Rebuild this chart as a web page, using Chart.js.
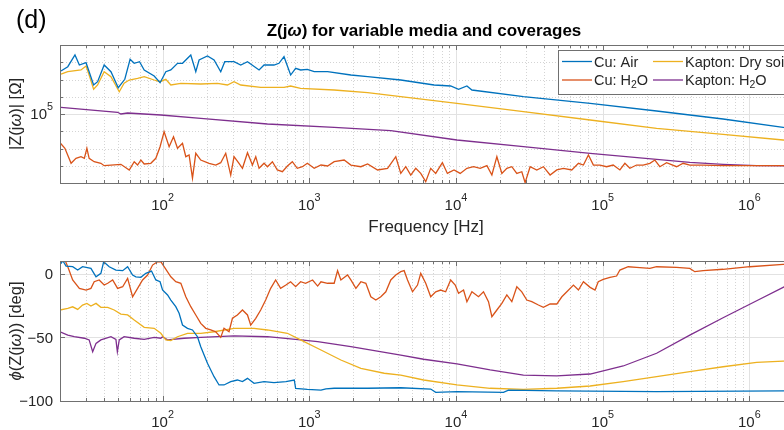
<!DOCTYPE html>
<html>
<head>
<meta charset="utf-8">
<script src="https://cdn.jsdelivr.net/npm/chart.js@4.4.1/dist/chart.umd.min.js"></script>
<style>
  html, body { margin: 0; padding: 0; background: #fff; overflow: hidden; }
  #wrap { position: relative; width: 784px; height: 430px; overflow: hidden; }
  canvas { position: absolute; left: 0; }
  #magCanvas { top: 0; }
  #phaseCanvas { top: 240px; }
</style>
</head>
<body>
<div id="wrap">
  <canvas id="magCanvas" width="800" height="240"></canvas>
  <canvas id="phaseCanvas" width="800" height="190"></canvas>
</div>
<script>
// ---- data: [frequency Hz, value] ----
const seriesLabels = ['Cu: Air', 'Cu: H_2O', 'Kapton: Dry soil', 'Kapton: H_2O'];

// |Z| in ohm
const magCuAir = [[20.3,3.11e7],[22.6,5.52e7],[25.3,2.63e8],[27.1,6.93e7],[30.1,9.42e7],[33.9,4.8e6],[36.1,7.45e6],[40,6.93e7],[44.5,2.83e7],[49.9,3.35e6],[55.3,1.03e7],[60.1,1.48e8],[64.1,8.69e7],[69.7,1.08e8],[75,3.56e7],[87.7,1.6e7],[96.2,6.52e6],[105.3,2.83e7],[113.9,3.56e7],[126.5,8.69e7],[136.8,8.69e7],[155.8,2.63e8],[168.5,2.83e7],[177.5,1.35e8],[202.4,2.3e8],[224.5,1.35e8],[249.3,2.83e7],[265.5,1.08e8],[307.1,1.08e8],[341.2,6.93e7],[379.3,1.08e8],[455,3.56e7],[492,6.93e7],[575,6.93e7],[622,8.69e7],[673,2.1e8],[747,1.82e7],[808,4.46e7],[873,3.56e7],[971,3.9e7],[1081,2.83e7],[1334,2.83e7],[1922,1.82e7],[2500,1.45e7],[4207,9.35e6],[7096,4.8e6],[9205,4.2e6],[10420,2.7e6],[11880,4.2e6],[12850,2.46e6],[28840,1.01e6],[82200,4.17e5],[233300,1.49e5],[662200,5.13e4],[1.7e6,1.69e4],[2e6,1.4e4]];
const magCuWater = [[20,2170],[21.6,1030],[23.8,139],[25.7,270],[27.8,335],[29.3,270],[30.5,1030],[31.6,270],[34.2,172],[38,139],[40,101],[44.5,110],[52,121],[59.3,57],[64.1,172],[67.6,110],[71.2,215],[75,126],[83.2,139],[90,270],[96.2,1270],[102.5,9420],[110.9,1270],[118.8,4830],[126.5,1030],[136.8,2000],[144.1,335],[151.7,420],[160,19],[168.5,527],[182.2,215],[207.6,139],[230.5,110],[249.3,150],[269.6,527],[291.6,29],[307.1,335],[332.1,139],[350.6,71],[379.3,571],[410,110],[432,335],[455,71],[492,139],[519,88],[561,172],[606,57],[656,45],[710,97],[767,172],[829,71],[898,88],[971,139],[1081,71],[1202,110],[1334,97],[1479,172],[1730,215],[1922,110],[2249,88],[2500,126],[2923,57],[3418,71],[3890,335],[4207,36],[4550,88],[4921,29],[5321,71],[5755,36],[6224,12],[6731,71],[7279,36],[8084,150],[8743,36],[9704,57],[10690,36],[11880,71],[13180,88],[14630,71],[16260,101],[17580,29],[19010,335],[20560,36],[22230,71],[24040,88],[26000,36],[28120,45],[29620,10.4],[32040,88],[35570,57],[39460,88],[43840,29],[48700,57],[53980,71],[61600,57],[68390,139],[73960,110],[80000,420],[86500,110],[95900,110],[106400,88],[118000,110],[131100,57],[141800,139],[153400,71],[170300,110],[188900,110],[209900,139],[227000,215],[245500,88],[272900,150],[319200,88],[354000,139],[392800,110],[484200,110],[662200,101],[1.7e6,101],[2e6,100]];
const magKaptonSoil = [[20.3,2.08e7],[22.6,2.83e7],[27.8,3.56e7],[30.1,6.07e7],[31.6,1.82e7],[33.9,2.7e6],[36.1,4.8e6],[40,2.83e7],[44.5,1.45e7],[50.7,1.96e6],[54.7,6.03e6],[59.3,9.35e6],[67.6,1.17e7],[75,1.45e7],[87.7,9.35e6],[96.2,7.45e6],[105.3,1.03e7],[113.9,4.8e6],[133.3,6.03e6],[182.2,5.48e6],[236.8,6.03e6],[276.9,4.8e6],[307.1,7.45e6],[341.2,4.8e6],[466.8,3.53e6],[673,3.53e6],[746.5,4.2e6],[873,3.09e6],[1479,2.46e6],[2500,1.72e6],[4207,1.01e6],[10160,4.17e5],[28840,1.36e5],[82200,4.49e4],[233300,1.48e4],[662200,6650],[1.7e6,3110],[2e6,2700]];
const magKaptonWater = [[20.3,2.44e5],[49.4,1.26e5],[52,1.0e5],[57.8,1.14e5],[97.3,8.75e4],[182.2,5.64e4],[518.6,2.63e4],[1479,1.69e4],[3597,1.08e4],[10160,3110],[28840,1270],[82200,527],[233300,237],[392800,158],[662200,121],[1.122e6,101],[2e6,100]];

// phase in degrees
const phCuAir = [[20.3,8],[20.9,10.2],[22,6],[24.4,5.5],[26.4,2.9],[28.5,5.5],[32.5,4.2],[35.2,-2.4],[38,0.3],[39.7,9.4],[43.3,5.5],[48.1,2.9],[53.5,2.4],[57.8,5.5],[62.5,-1],[65.8,-2.4],[71.2,-2.8],[76.9,0.3],[84.1,2.1],[90,-4.9],[96.2,-6.3],[100,-12.8],[108.2,-16.7],[113.9,-20.7],[123.1,-25.9],[129.7,-31.1],[136.8,-40.3],[147.9,-42.9],[160,-44.2],[173,-49.5],[182.2,-57.3],[202.4,-70.4],[224.5,-80.9],[242.7,-87.4],[262.4,-87.4],[291.6,-84.8],[323.6,-83.5],[350.6,-84.8],[379.3,-82.2],[420.7,-86.1],[491.8,-84.8],[575,-85.6],[693.4,-84.8],[790.7,-83.5],[807.6,-90],[970.5,-90.8],[1202,-91.4],[1300,-90.5],[1479,-90],[2500,-90],[4207,-89.6],[6731,-90.6],[7279,-93.2],[10160,-92.7],[21090,-93.2],[22800,-91.4],[48700,-92.1],[233300,-92.7],[1.7e6,-92.1],[2e6,-92.1]];
const phCuWater = [[20,22],[20.9,14.7],[22.6,5.5],[24.4,-4.9],[27.1,-11.5],[30.1,-12.8],[32.5,-11.5],[34.2,-6.3],[37,-4.9],[40,-8.9],[42.3,-7.5],[45.7,-4.9],[49.4,-11.5],[53.5,-10.2],[57.8,-3.6],[62.5,-18.1],[67.6,-11.5],[73.1,-4.9],[79.1,-1],[85.5,6.8],[92.5,9.4],[97.3,9.4],[102.5,5.5],[113.9,-2.4],[123.1,-6.3],[133.3,-7.5],[144.1,-18.1],[155.8,-25.9],[168.5,-32.4],[182.2,-39],[197.1,-42.9],[213.2,-44.2],[230.5,-45.6],[249.3,-50],[262.4,-42.9],[283.9,-45.6],[299.6,-35],[323.6,-32.4],[350.6,-28.5],[379.3,-32.4],[399,-40.3],[431.9,-35],[466.8,-28.5],[504.6,-20.7],[545.8,-11.5],[590.2,-4.9],[638.3,-11.5],[693.4,-8.9],[746.5,-6.3],[807.6,-10.2],[873.4,-6.3],[944.1,-7.5],[1054,-4.9],[1141,-9.7],[1202,-6.3],[1334,-7.5],[1479,-7.5],[1560,2.4],[1643,-4.9],[1824,-1],[1922,-4.9],[2080,-11.5],[2249,-6.3],[2432,-7.5],[2630,-18.1],[2844,-20.7],[3076,-18.1],[3327,-14.2],[3597,-4.9],[3890,-1],[4207,1.6],[4436,2.4],[4677,-4.9],[5058,-14.2],[5470,-8.9],[5755,0.3],[6224,-7.5],[6731,-18.1],[7279,-14.2],[7870,-12.8],[8511,-14.2],[9205,-4.9],[9890,-8.9],[10420,-15.4],[11270,-12.8],[11880,-22],[12850,-14.2],[14250,-18.1],[15410,-14.2],[16670,-22],[17580,-33.8],[19010,-28.5],[20560,-23.3],[22230,-16.7],[24040,-22],[26000,-10.2],[28120,-14.2],[30410,-20.7],[32890,-22],[36490,-24.6],[39460,-26.4],[43840,-23.8],[48700,-23.8],[52720,-18.1],[57010,-14.2],[63240,-8.9],[68390,-12.8],[73960,-6.3],[82200,-10.7],[88700,-12.8],[93360,-6.3],[100900,-4.5],[112100,-2.8],[124500,-1.8],[131100,2.9],[149400,5.5],[170300,5],[209900,4.2],[233300,5.5],[319200,5],[392800,4.2],[424900,1.6],[484200,2.4],[662200,3.5],[1.005e6,5.5],[1.7e6,7.4],[2e6,7.6]];
const phKaptonSoil = [[20,-28.5],[22.6,-27.2],[24.4,-26],[26.4,-28],[28.5,-24.6],[30.5,-23.3],[32.5,-25.4],[35.2,-23.3],[38,-26.4],[42.3,-26.4],[46.8,-28.5],[52,-31.7],[57.8,-32.4],[64.1,-36.4],[75,-42.1],[87.7,-42.9],[97.3,-46.8],[105.3,-52],[113.9,-52.6],[126.5,-49.5],[147.9,-46.8],[182.2,-46.8],[224.5,-45.6],[307.1,-42.9],[420.7,-42.9],[518.6,-44.2],[709.6,-46.8],[873.4,-52],[1202,-59.9],[1643,-67.8],[2249,-74.3],[3243,-78.2],[4207,-79.6],[6026,-83.5],[10160,-87.4],[17110,-90],[28840,-90.8],[48700,-90],[82200,-88.2],[138100,-84.8],[233300,-80.9],[392800,-77],[662200,-73.1],[1.122e6,-69.6],[1.7e6,-68.6],[2e6,-68.3]];
const phKaptonWater = [[20,-45.6],[22.6,-48.2],[25,-49.5],[29.3,-50.7],[31.6,-52],[33.4,-61.3],[35.2,-54.7],[38,-52],[44.5,-49.5],[48.1,-51.6],[49.2,-61.3],[50.7,-52],[54.7,-49.5],[64.1,-50.7],[75,-51.6],[87.7,-50],[97.3,-50.7],[100,-49.5],[108.2,-52],[140.3,-50.7],[182.2,-50],[307.1,-48.9],[518.6,-49.5],[873.4,-52],[1141,-53.4],[1922,-57.3],[4207,-63.9],[6026,-67.2],[10160,-70.9],[17110,-75.6],[28840,-79.6],[48700,-80.3],[82200,-78.8],[138100,-72.5],[233300,-62.5],[392800,-48.2],[662200,-34.6],[1.122e6,-21.2],[1.7e6,-10.7],[2e6,-6.5]];

// axes
const freqMin = 20, freqMax = 2e6;
const freqMajorTicks = [1e2, 1e3, 1e4, 1e5, 1e6];
const magMin = 10, magMax = 1e9;
const magMajorTicks = [1e5];
const magMinorTicks = [1e2, 1e3, 1e4, 1e6, 1e7, 1e8];
const phaseMin = -100, phaseMax = 10;
const phaseTicks = [-100, -50, 0];

const colors = ['#0072BD', '#D95319', '#EDB120', '#7E2F8E'];
const FONT = '"Liberation Sans", Arial, Helvetica, sans-serif';
const INK = '#262626';

const freqMinorTicks = [];
for (let d = 10; d <= 1e6; d *= 10) {
  for (let m = 2; m <= 9; m++) {
    const v = m * d;
    if (v >= freqMin && v <= freqMax) freqMinorTicks.push(v);
  }
}

// tiny TeX-ish text: _x subscript, ^x superscript, \omega etc.
const GREEK = { omega: { t: '\u03C9', it: true }, Omega: { t: '\u03A9' }, phi: { t: '\u03D5', it: true } };
function texParts(s) {
  const parts = [];
  let buf = '';
  const flush = () => { if (buf) { parts.push({ t: buf }); buf = ''; } };
  for (let i = 0; i < s.length; ) {
    const ch = s[i];
    if (ch === '_' || ch === '^') {
      flush();
      parts.push({ t: s[i + 1], sub: ch === '_', sup: ch === '^' });
      i += 2;
    } else if (ch === '\\') {
      flush();
      const m = /^\\([a-zA-Z]+)/.exec(s.slice(i));
      parts.push(GREEK[m[1]]);
      i += m[0].length;
    } else {
      buf += ch;
      i++;
    }
  }
  flush();
  return parts;
}

function drawTex(ctx, s, x, y, size, opt) {
  opt = opt || {};
  const parts = texParts(s);
  const fonts = parts.map(p => {
    const sz = (p.sub || p.sup) ? size * 0.72 : size;
    return (p.it ? 'italic ' : '') + (opt.bold ? 'bold ' : '') + sz + 'px ' + FONT;
  });
  let w = 0;
  parts.forEach((p, i) => { ctx.font = fonts[i]; w += ctx.measureText(p.t).width; });
  let cx = opt.align === 'center' ? x - w / 2 : opt.align === 'right' ? x - w : x;
  ctx.textAlign = 'left';
  ctx.textBaseline = 'alphabetic';
  ctx.fillStyle = opt.color || INK;
  parts.forEach((p, i) => {
    ctx.font = fonts[i];
    const dy = p.sub ? size * 0.22 : p.sup ? -size * 0.6 : 0;
    ctx.fillText(p.t, cx, y + dy);
    cx += ctx.measureText(p.t).width;
  });
}

const matlabAxes = {
  id: 'matlabAxes',
  beforeDatasetsDraw(chart, args, o) {
    const { ctx, chartArea: a, scales: { x, y } } = chart;
    ctx.save();
    ctx.lineWidth = 1;
    const vline = v => { const px = Math.round(x.getPixelForValue(v)) + 0.5; ctx.beginPath(); ctx.moveTo(px, a.top); ctx.lineTo(px, a.bottom); ctx.stroke(); };
    const hline = v => { const py = Math.round(y.getPixelForValue(v)) + 0.5; ctx.beginPath(); ctx.moveTo(a.left, py); ctx.lineTo(a.right, py); ctx.stroke(); };
    ctx.strokeStyle = '#d4d4d4';
    ctx.setLineDash([1, 2]);
    freqMinorTicks.forEach(vline);
    o.yMinor.forEach(hline);
    ctx.setLineDash([]);
    ctx.strokeStyle = '#e2e2e2';
    freqMajorTicks.forEach(vline);
    o.yMajor.forEach(hline);
    ctx.restore();
  },
  afterDatasetsDraw(chart, args, o) {
    const { ctx, chartArea: a, scales: { x, y } } = chart;
    ctx.save();
    // box
    ctx.strokeStyle = '#707070';
    ctx.lineWidth = 1;
    ctx.strokeRect(Math.round(a.left) + 0.5, Math.round(a.top) + 0.5, Math.round(a.right - a.left), Math.round(a.bottom - a.top));
    // inward tick marks
    const xt = (v, len) => {
      const px = Math.round(x.getPixelForValue(v)) + 0.5;
      ctx.beginPath();
      ctx.moveTo(px, a.bottom); ctx.lineTo(px, a.bottom - len);
      ctx.moveTo(px, a.top); ctx.lineTo(px, a.top + len);
      ctx.stroke();
    };
    const yt = (v, len) => {
      const py = Math.round(y.getPixelForValue(v)) + 0.5;
      ctx.beginPath();
      ctx.moveTo(a.left, py); ctx.lineTo(a.left + len, py);
      ctx.moveTo(a.right, py); ctx.lineTo(a.right - len, py);
      ctx.stroke();
    };
    freqMinorTicks.forEach(v => xt(v, 3));
    freqMajorTicks.forEach(v => xt(v, 5));
    o.yMinor.forEach(v => yt(v, 3));
    o.yMajor.forEach(v => yt(v, 5));

    // tick labels
    freqMajorTicks.forEach(v => {
      drawTex(ctx, '10^' + Math.round(Math.log10(v)), x.getPixelForValue(v), o.xTickBaseline, 15, { align: 'center' });
    });
    o.yMajor.forEach(v => {
      drawTex(ctx, o.yTickText(v), a.left - 7, y.getPixelForValue(v) + 5.4, 15, { align: 'right' });
    });

    // y label (rotated)
    ctx.save();
    ctx.translate(20.5, o.yLabelCenter);
    ctx.rotate(-Math.PI / 2);
    drawTex(ctx, o.yLabel, 0, 0, 16.5, { align: 'center' });
    ctx.restore();

    if (o.xLabel) drawTex(ctx, o.xLabel, 426, o.xLabelBaseline, 17, { align: 'center' });
    if (o.title) drawTex(ctx, o.title, 424, 36, 17, { align: 'center', bold: true, color: '#000' });
    if (o.panel) drawTex(ctx, o.panel, 16, 28, 25, { color: '#000' });

    if (o.legend) {
      const bx = 558.5, by = 50.5, bw = 232, bh = 44;
      ctx.fillStyle = '#fff';
      ctx.fillRect(bx, by, bw, bh);
      ctx.strokeStyle = '#707070';
      ctx.lineWidth = 1;
      ctx.strokeRect(bx, by, bw, bh);
      const colX = [562, 653], rowY = [61.5, 80];
      chart.data.datasets.forEach((ds, i) => {
        const cx = colX[Math.floor(i / 2)], cy = rowY[i % 2];
        ctx.strokeStyle = ds.borderColor;
        ctx.lineWidth = 1.3;
        ctx.beginPath(); ctx.moveTo(cx, cy); ctx.lineTo(cx + 30, cy); ctx.stroke();
        drawTex(ctx, ds.label, cx + 32, cy + 5, 14.5);
      });
    }
    ctx.restore();
  }
};

function makeDatasets(series) {
  return series.map((pts, i) => ({
    label: seriesLabels[i],
    data: pts.map(p => ({ x: p[0], y: p[1] })),
    borderColor: colors[i],
    backgroundColor: colors[i],
    borderWidth: 1.3,
    pointRadius: 0,
    tension: 0,
    fill: false
  }));
}

function makeOptions(yScale, xHeight, padTop, axesOpts) {
  return {
    responsive: false,
    animation: false,
    devicePixelRatio: 1,
    events: [],
    layout: { padding: { left: 0, right: 6.5, top: padTop, bottom: 0 } },
    plugins: { legend: { display: false }, tooltip: { enabled: false }, title: { display: false }, matlabAxes: axesOpts },
    scales: {
      x: {
        type: 'logarithmic', min: freqMin, max: freqMax,
        ticks: { display: false }, grid: { display: false }, border: { display: false },
        afterFit: s => { s.height = xHeight; }
      },
      y: Object.assign(yScale, {
        ticks: { display: false }, grid: { display: false }, border: { display: false },
        afterFit: s => { s.width = 60; }
      })
    }
  };
}

new Chart(document.getElementById('magCanvas'), {
  type: 'line',
  data: { datasets: makeDatasets([magCuAir, magCuWater, magKaptonSoil, magKaptonWater]) },
  options: makeOptions({ type: 'logarithmic', min: magMin, max: magMax }, 57, 45, {
    yMajor: magMajorTicks, yMinor: magMinorTicks,
    yTickText: v => '10^' + Math.round(Math.log10(v)),
    xTickBaseline: 210,
    yLabel: '|Z(j\\omega)| [\\Omega]', yLabelCenter: 114,
    xLabel: 'Frequency [Hz]', xLabelBaseline: 232,
    title: 'Z(j\\omega) for variable media and coverages',
    panel: '(d)',
    legend: true
  }),
  plugins: [matlabAxes]
});

new Chart(document.getElementById('phaseCanvas'), {
  type: 'line',
  data: { datasets: makeDatasets([phCuAir, phCuWater, phKaptonSoil, phKaptonWater]) },
  options: makeOptions({ type: 'linear', min: phaseMin, max: phaseMax }, 29, 21, {
    yMajor: phaseTicks, yMinor: [],
    yTickText: v => (v < 0 ? '\u2212' + (-v) : String(v)),
    xTickBaseline: 187,
    yLabel: '\\phi(Z(j\\omega)) [deg]', yLabelCenter: 91
  }),
  plugins: [matlabAxes]
});
</script>
</body>
</html>
